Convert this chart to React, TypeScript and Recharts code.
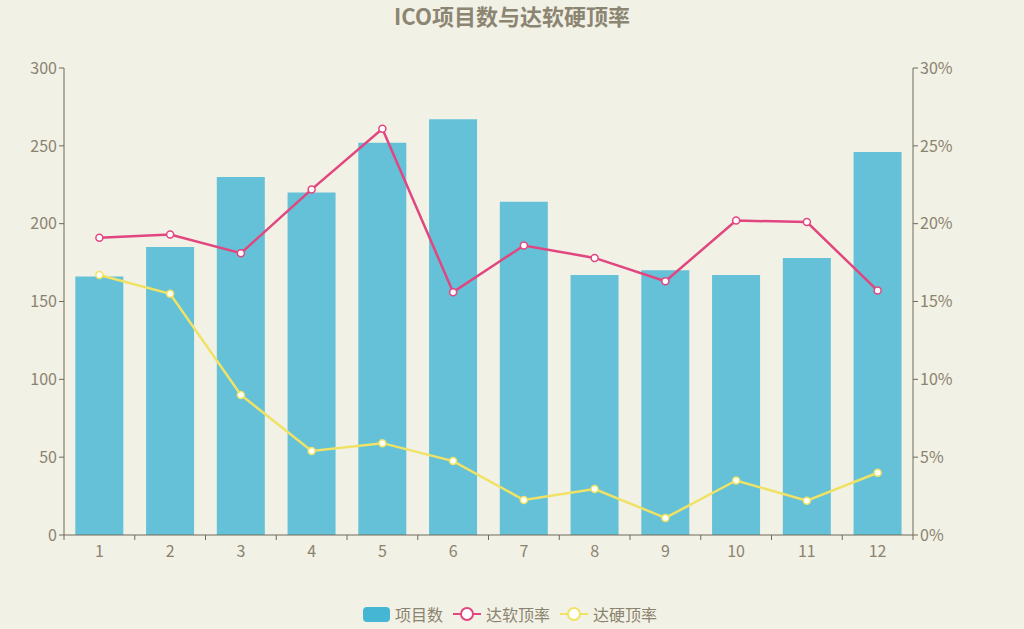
import React from 'react';
import { ComposedChart, Bar, Line, XAxis, YAxis, Legend } from 'recharts';

const months = ['1', '2', '3', '4', '5', '6', '7', '8', '9', '10', '11', '12'];
const projectCounts = [166, 185, 230, 220, 252, 267, 214, 167, 170, 167, 178, 246];
const softCapRate = [19.1, 19.3, 18.1, 22.2, 26.1, 15.6, 18.6, 17.8, 16.3, 20.2, 20.1, 15.7];
const hardCapRate = [16.7, 15.5, 9.0, 5.4, 5.9, 4.75, 2.25, 2.95, 1.1, 3.5, 2.2, 4.0];
const leftTicks = [0, 50, 100, 150, 200, 250, 300];
const rightTicks = [0, 5, 10, 15, 20, 25, 30];

const data = months.map((m, i) => ({
  month: m,
  count: projectCounts[i],
  soft: softCapRate[i],
  hard: hardCapRate[i],
}));

const BG = '#f2f1e6';
const TEXT = '#8a836e';
const AXIS = '#6e6a5b';
const BAR = '#64c1d7';
const BAR_LEGEND = '#45b6d3';
const PINK = '#e2467f';
const YELLOW = '#f0e265';
const FONT = '"Noto Sans CJK SC", "Noto Sans", sans-serif';

const CHART_W = 1024;
const MARGIN_L = 64;
const MARGIN_R = 111;
const BAND = (CHART_W - MARGIN_L - MARGIN_R) / months.length;

const XTick = (props: any) => {
  const { x, y, payload } = props;
  const isLast = payload && payload.value === months[months.length - 1];
  return (
    <g>
      <line x1={x - BAND / 2} x2={x - BAND / 2} y1={y - 8} y2={y - 3} stroke={AXIS} strokeWidth={1} />
      {isLast && (
        <line x1={x + BAND / 2} x2={x + BAND / 2} y1={y - 8} y2={y - 3} stroke={AXIS} strokeWidth={1} />
      )}
      <text x={x} y={y + 14} textAnchor="middle" fill={TEXT} fontSize={16} fontFamily={FONT}>
        {payload.value}
      </text>
    </g>
  );
};

const LegendContent = () => {
  const item = (icon: React.ReactNode, label: string) => (
    <div style={{ display: 'flex', alignItems: 'center', marginRight: 10 }}>
      {icon}
      <span style={{ marginLeft: 5, color: TEXT, fontSize: 16, fontFamily: FONT }}>{label}</span>
    </div>
  );
  const lineIcon = (c: string) => (
    <svg width={28} height={16}>
      <line x1={0} x2={28} y1={8} y2={8} stroke={c} strokeWidth={2} />
      <circle cx={14} cy={8} r={6} fill="#fff" stroke={c} strokeWidth={2} />
    </svg>
  );
  return (
    <div
      style={{
        display: 'flex',
        justifyContent: 'center',
        alignItems: 'center',
        width: '100%',
        transform: 'translate(3px, 9px)',
      }}
    >
      {item(
        <svg width={27} height={15}>
          <rect x={0} y={0} width={27} height={15} rx={4} fill={BAR_LEGEND} />
        </svg>,
        '项目数'
      )}
      {item(lineIcon(PINK), '达软顶率')}
      {item(lineIcon(YELLOW), '达硬顶率')}
    </div>
  );
};

export default function App() {
  return (
    <div style={{ position: 'absolute', left: 0, top: 0, width: 1024, height: 629, background: BG }}>
      <div
        style={{
          position: 'absolute',
          top: -1,
          left: 0,
          width: 1024,
          textAlign: 'center',
          fontFamily: FONT,
          fontWeight: 'bold',
          fontSize: 22,
          color: '#8b8571',
        }}
      >
        ICO项目数与达软硬顶率
      </div>
      <ComposedChart
        width={1024}
        height={629}
        data={data}
        margin={{ top: 68, right: 0, left: 0, bottom: 0 }}
        barCategoryGap="16%"
      >
        <XAxis
          dataKey="month"
          stroke={AXIS}
          tickLine={false}
          tick={<XTick />}
          height={58}
          interval={0}
        />
        <YAxis
          yAxisId="left"
          width={MARGIN_L}
          domain={[0, 300]}
          ticks={leftTicks}
          stroke={AXIS}
          tickSize={5}
          tick={{ fill: TEXT, fontSize: 16, fontFamily: FONT }}
          allowDataOverflow
        />
        <YAxis
          yAxisId="right"
          orientation="right"
          width={MARGIN_R}
          domain={[0, 30]}
          ticks={rightTicks}
          stroke={AXIS}
          tickSize={5}
          tickFormatter={(v: number) => `${v}%`}
          tick={{ fill: TEXT, fontSize: 16, fontFamily: FONT }}
          allowDataOverflow
        />
        <Legend verticalAlign="bottom" height={36} content={<LegendContent />} />
        <Bar yAxisId="left" dataKey="count" name="项目数" fill={BAR} isAnimationActive={false} />
        <Line
          yAxisId="right"
          type="linear"
          dataKey="soft"
          name="达软顶率"
          stroke={PINK}
          strokeWidth={2.5}
          dot={{ r: 3.5, fill: '#fff', stroke: PINK, strokeWidth: 1.5 }}
          isAnimationActive={false}
        />
        <Line
          yAxisId="right"
          type="linear"
          dataKey="hard"
          name="达硬顶率"
          stroke={YELLOW}
          strokeWidth={2.5}
          dot={{ r: 3.5, fill: '#fff', stroke: YELLOW, strokeWidth: 1.5 }}
          isAnimationActive={false}
        />
      </ComposedChart>
    </div>
  );
}
